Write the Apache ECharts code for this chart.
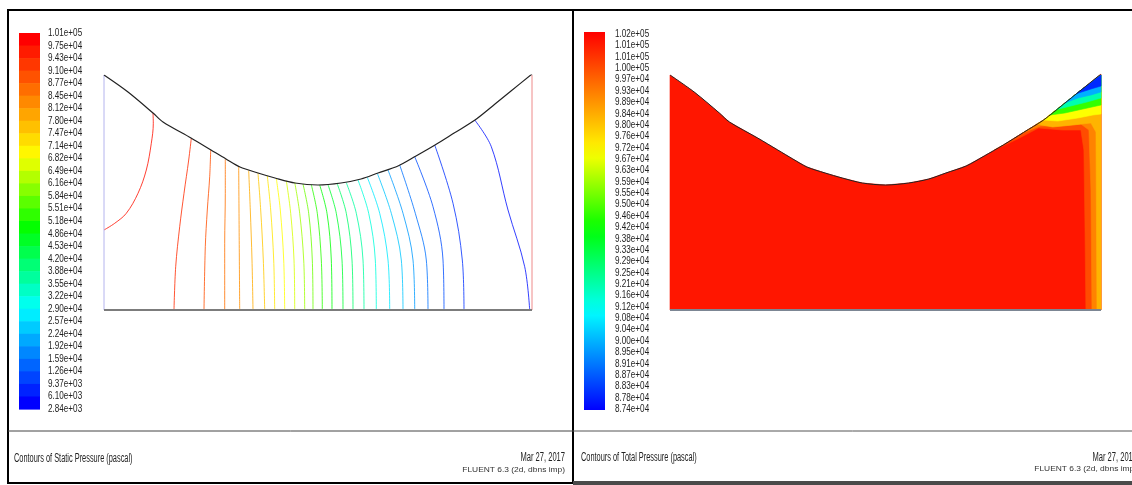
<!DOCTYPE html>
<html>
<head>
<meta charset="utf-8">
<script src="https://cdn.jsdelivr.net/npm/echarts/dist/echarts.min.js"></script>
<style>
  html, body { margin: 0; padding: 0; background: #fff; }
  #chart { width: 1132px; height: 485px; }
</style>
</head>
<body>
<div id="chart"></div>
<script>
// ---- colour-bar tick labels (pascal) ----
const staticTicks = ['1.01e+05','9.75e+04','9.43e+04','9.10e+04','8.77e+04','8.45e+04','8.12e+04','7.80e+04',
  '7.47e+04','7.14e+04','6.82e+04','6.49e+04','6.16e+04','5.84e+04','5.51e+04','5.18e+04','4.86e+04','4.53e+04',
  '4.20e+04','3.88e+04','3.55e+04','3.22e+04','2.90e+04','2.57e+04','2.24e+04','1.92e+04','1.59e+04','1.26e+04',
  '9.37e+03','6.10e+03','2.84e+03'];
const totalTicks = ['1.02e+05','1.01e+05','1.01e+05','1.00e+05','9.97e+04','9.93e+04','9.89e+04','9.84e+04',
  '9.80e+04','9.76e+04','9.72e+04','9.67e+04','9.63e+04','9.59e+04','9.55e+04','9.50e+04','9.46e+04','9.42e+04',
  '9.38e+04','9.33e+04','9.29e+04','9.25e+04','9.21e+04','9.16e+04','9.12e+04','9.08e+04','9.04e+04','9.00e+04',
  '8.95e+04','8.91e+04','8.87e+04','8.83e+04','8.78e+04','8.74e+04'];

// ---- geometry: curved upper wall of the channel (x along the channel, y up from the floor) ----
const domainWidth = 428;
const domainHeight = 235;
const wallProfile = [[0,235],[24,218],[49,197],[59,188],[87,172],[107,160],[122,151],[136,143],[154,137],
  [171,132],[191,127],[214,125],[237,127],[257,131],[274,137],[294,144],[312,154],[331,165],[351,177.5],
  [371,190],[391,206],[407,219],[428,236]];

// ---- static pressure isolines: level (Pa) and traced path ----
const staticIsoLevels = [97500, 94300, 90000, 86000, 82500, 79000, 75500, 72000, 69000, 66000, 62000, 58000,
  53000, 49500, 46000, 41500, 37000, 32000, 27000, 23500, 19500, 15500, 12000, 9000, 6000];
const staticIsoPaths = [
  [[49,197],[49.3,186.7],[47.3,166.7],[42.3,140],[34,116.7],[22.3,96.7],[10.7,86.7],[0,80]],
  [[87.3,171.7],[84.7,150],[80,116.7],[75.7,83.3],[71.7,43.3],[70,0]],
  [[106.7,160],[105.7,133.3],[103.3,100],[101.3,63.3],[100,0]],
  [[121.3,150.7],[121.3,116.7],[120.7,66.7],[120.7,0]],
  [[134.7,144],[135,100],[135.7,0]],
  [[144.7,139.3],[146.3,100],[148,50],[149,0]],
  [[154,136.7],[156.7,100],[159.3,50],[160.7,0]],
  [[163.3,134],[166.7,100],[169.7,50],[170.7,0]],
  [[172.3,131.7],[176.3,100],[179.7,50],[180.7,0]],
  [[182.3,129.3],[186.7,96.7],[190,50],[190.7,0]],
  [[190.7,127.7],[195.7,96.7],[199.7,50],[200.7,0]],
  [[199,126],[204.7,96.7],[208.3,50],[209,0]],
  [[207.3,125.3],[213.3,96.7],[217.3,50],[218.3,0]],
  [[215.7,125],[223,96.7],[227.3,50],[228,0]],
  [[224,125.3],[232.3,96.7],[238,50],[239,0]],
  [[233.3,126],[242.3,96.7],[248,50],[249,0]],
  [[242.3,127.3],[252.3,96.7],[259,50],[260,0]],
  [[254,130],[264.7,96.7],[271.3,50],[272.3,0]],
  [[263.3,132.7],[275.7,96.7],[284,50],[285.7,0]],
  [[273.3,136.7],[287.3,96.7],[297.3,50],[299,0]],
  [[284,140],[299,96.7],[309,50],[310.7,0]],
  [[295.7,145],[311.3,96.7],[322.3,50],[324,0]],
  [[310.7,153.3],[329,103.3],[339,50],[340,0]],
  [[330.7,165],[349,106.7],[358.3,50],[360,0]],
  [[370.7,190],[387.3,163.3],[404,100],[420.7,43.3],[425.7,0]]
];

// ---- total pressure: core level and banded regions near the outlet wall ----
const totalCoreLevel = 101600;
const totalBandLevels = [100600, 99600, 98700, 97300, 95000, 92200, 90000, 88000];
const totalBandEdges = [
  [[322,160],[345,171],[366,182],[390,180],[408,180],[411,160],[412,90],[413,0],[428,0]],
  [[350,177],[368,184],[388,184],[408,186],[416,180],[418,120],[419,0],[428,0]],
  [[364,186],[380,183],[400,185],[418,187],[423,178],[424,0],[428,0]],
  [[371,190],[385,189],[405,192],[420,195],[428,196]],
  [[377,195],[392,197],[410,201],[428,205]],
  [[384,200.5],[398,204],[414,208],[428,212]],
  [[392,207],[405,212],[418,215],[428,218]],
  [[404,216.5],[418,221],[428,224]]
];

// ---- colour map (red -> yellow -> green -> cyan -> blue) ----
const hueStops = [[0,0],[0.32,60],[0.52,120],[0.74,180],[1,240]];
function hsvColor(h) {
  const x = h / 60, i = Math.min(Math.floor(x), 4), f = x - i;
  let r, g, b;
  if (i === 0) { r = 1; g = f; b = 0; }
  else if (i === 1) { r = 1 - f; g = 1; b = 0; }
  else if (i === 2) { r = 0; g = 1; b = f; }
  else if (i === 3) { r = 0; g = 1 - f; b = 1; }
  else { r = 0; g = 0; b = 1; }
  const c = v => Math.round(v * 255);
  return 'rgb(' + c(r) + ',' + c(g) + ',' + c(b) + ')';
}
function spectrum(t) {
  t = Math.max(0, Math.min(1, t));
  for (let i = 1; i < hueStops.length; i++) {
    if (t <= hueStops[i][0]) {
      const a = hueStops[i - 1], b = hueStops[i];
      return hsvColor(a[1] + (b[1] - a[1]) * (t - a[0]) / (b[0] - a[0]));
    }
  }
  return hsvColor(240);
}
const num = s => parseFloat(s);
const staticTop = num(staticTicks[0]), staticBot = num(staticTicks[staticTicks.length - 1]);
const totalTop = num(totalTicks[0]), totalBot = num(totalTicks[totalTicks.length - 1]);
const staticBands = staticTicks.length - 1;
function staticColor(v) {
  const k = (staticTop - v) / (staticTop - staticBot) * staticBands;
  return spectrum((k - 0.5) / (staticBands - 1));
}
function totalColor(v) { return spectrum((totalTop - v) / (totalTop - totalBot)); }

// ---- helpers ----
const LABEL_FONT = '11px "Liberation Sans", Arial, sans-serif';
function colourBarBands(axisIdx, count, banded) {
  return {
    type: 'custom', xAxisIndex: axisIdx, yAxisIndex: axisIdx, silent: true, animation: false,
    data: banded ? Array.from({ length: count - 1 }, (_, i) => [i]) : [[0]],
    renderItem(params, api) {
      if (banded) {
        const i = api.value(0);
        const p0 = api.coord([0, i]), p1 = api.coord([1, i + 1]);
        return { type: 'rect', shape: { x: p0[0], y: p0[1], width: p1[0] - p0[0], height: p1[1] - p0[1] + 0.6 },
          style: { fill: spectrum(i / (count - 2)) } };
      }
      const p0 = api.coord([0, 0]), p1 = api.coord([1, count - 1]);
      const stops = [];
      for (let k = 0; k <= 24; k++) stops.push({ offset: k / 24, color: spectrum(k / 24) });
      return { type: 'rect', shape: { x: p0[0], y: p0[1] - 2, width: p1[0] - p0[0], height: p1[1] - p0[1] + 3 },
        style: { fill: new echarts.graphic.LinearGradient(0, 0, 0, 1, stops) } };
    }
  };
}
function colourBarLabels(axisIdx, ticks, gap) {
  return {
    type: 'custom', xAxisIndex: axisIdx, yAxisIndex: axisIdx, silent: true, animation: false,
    data: ticks.map((_, i) => [i]),
    renderItem(params, api) {
      const i = api.value(0);
      const p = api.coord([1, i]);
      return { type: 'text', x: p[0] + gap, y: p[1], scaleX: 0.74,
        style: { text: ticks[i], font: LABEL_FONT, fill: '#222', textAlign: 'left', textVerticalAlign: 'middle',
          align: 'left', verticalAlign: 'middle' } };
    }
  };
}
function polygonSeries(axisIdx, pts, fill) {
  return {
    type: 'custom', xAxisIndex: axisIdx, yAxisIndex: axisIdx, silent: true, animation: false, data: [[0]],
    renderItem(params, api) {
      return { type: 'polygon', shape: { points: pts.map(p => api.coord(p)) }, style: { fill: fill, stroke: fill, lineWidth: 0.6 } };
    }
  };
}
function lineSeries(axisIdx, pts, color, width, smooth, opacity) {
  return { type: 'line', xAxisIndex: axisIdx, yAxisIndex: axisIdx, data: pts, smooth: smooth, showSymbol: false,
    silent: true, animation: false, lineStyle: { color: color, width: width, opacity: opacity == null ? 1 : opacity } };
}
function bandPolygon(edge) {
  const x0 = edge[0][0];
  const upper = wallProfile.filter(p => p[0] > x0 && p[0] < domainWidth).reverse();
  return edge.concat([[domainWidth, domainHeight]], upper);
}

// ---- axes / grids ----
const grids = [
  { left: 19, top: 33, width: 21, height: 376 },     // static colour bar
  { left: 104, top: 75, width: 428, height: 235 },   // static pressure field
  { left: 584, top: 34, width: 21, height: 375 },    // total colour bar
  { left: 670, top: 75, width: 431, height: 235 }    // total pressure field
];
const xAxes = [
  { gridIndex: 0, type: 'value', min: 0, max: 1, show: false },
  { gridIndex: 1, type: 'value', min: 0, max: domainWidth, show: false },
  { gridIndex: 2, type: 'value', min: 0, max: 1, show: false },
  { gridIndex: 3, type: 'value', min: 0, max: domainWidth, show: false }
];
const yAxes = [
  { gridIndex: 0, type: 'value', min: 0, max: staticTicks.length - 1, inverse: true, show: false },
  { gridIndex: 1, type: 'value', min: 0, max: domainHeight, show: false },
  { gridIndex: 2, type: 'value', min: 0, max: totalTicks.length - 1, inverse: true, show: false },
  { gridIndex: 3, type: 'value', min: 0, max: domainHeight, show: false }
];

const series = [];
// static pressure panel
series.push(colourBarBands(0, staticTicks.length, true));
series.push(colourBarLabels(0, staticTicks, 8));
staticIsoPaths.forEach((path, i) => series.push(lineSeries(1, path, staticColor(staticIsoLevels[i]), 1, 0.35, 0.8)));
series.push(lineSeries(1, [[0, 0], [0, domainHeight]], '#b4b4ee', 1, false));
series.push(lineSeries(1, [[domainWidth, 0], [domainWidth, domainHeight]], '#ee8a8a', 1, false));
series.push(lineSeries(1, [[0, 0], [domainWidth, 0]], '#7c7c7c', 2, false));
series.push(lineSeries(1, wallProfile, '#222', 1.2, 0.3));
// total pressure panel
series.push(colourBarBands(2, totalTicks.length, false));
series.push(colourBarLabels(2, totalTicks, 10));
series.push(polygonSeries(3, [[0, 0]].concat(wallProfile, [[domainWidth, 0]]), totalColor(totalCoreLevel)));
totalBandEdges.forEach((edge, i) => series.push(polygonSeries(3, bandPolygon(edge), totalColor(totalBandLevels[i]))));
series.push(lineSeries(3, [[0, 0], [domainWidth, 0]], '#7c8694', 2, false));
series.push(lineSeries(3, wallProfile, '#222', 1, 0.3));

// ---- frames and captions ----
const captionFont = '12px "Liberation Sans", Arial, sans-serif';
function caption(x, y, text, align, scale, font, fill) {
  return { type: 'text', x: x, y: y, scaleX: scale, silent: true,
    style: { text: text, font: font || captionFont, fill: fill || '#222', textAlign: align, textVerticalAlign: 'middle',
      align: align, verticalAlign: 'middle' } };
}
const graphic = [
  { type: 'rect', silent: true, shape: { x: 8, y: 10, width: 565, height: 473 }, style: { fill: 'none', stroke: '#000', lineWidth: 2 } },
  { type: 'line', silent: true, shape: { x1: 573, y1: 10, x2: 1132, y2: 10 }, style: { stroke: '#000', lineWidth: 2 } },
  { type: 'line', silent: true, shape: { x1: 8, y1: 431, x2: 573, y2: 431 }, style: { stroke: '#444', lineWidth: 1 } },
  { type: 'line', silent: true, shape: { x1: 573, y1: 431, x2: 1132, y2: 431 }, style: { stroke: '#555', lineWidth: 1 } },
  { type: 'rect', silent: true, shape: { x: 573, y: 481, width: 559, height: 4 }, style: { fill: '#4a4a4a' } },
  caption(14, 459, 'Contours of Static Pressure (pascal)', 'left', 0.615),
  caption(565, 458, 'Mar 27, 2017', 'right', 0.63),
  caption(565, 470, 'FLUENT 6.3 (2d, dbns imp)', 'right', 1.2, '7px "Liberation Sans", Arial, sans-serif', '#333'),
  caption(581, 458, 'Contours of Total Pressure (pascal)', 'left', 0.615),
  caption(1137, 458, 'Mar 27, 2017', 'right', 0.63),
  caption(1137, 469, 'FLUENT 6.3 (2d, dbns imp)', 'right', 1.2, '7px "Liberation Sans", Arial, sans-serif', '#333')
];

const chart = echarts.init(document.getElementById('chart'), null, { renderer: 'canvas' });
chart.setOption({
  animation: false,
  backgroundColor: '#fff',
  grid: grids,
  xAxis: xAxes,
  yAxis: yAxes,
  series: series,
  graphic: graphic
});
</script>
</body>
</html>
